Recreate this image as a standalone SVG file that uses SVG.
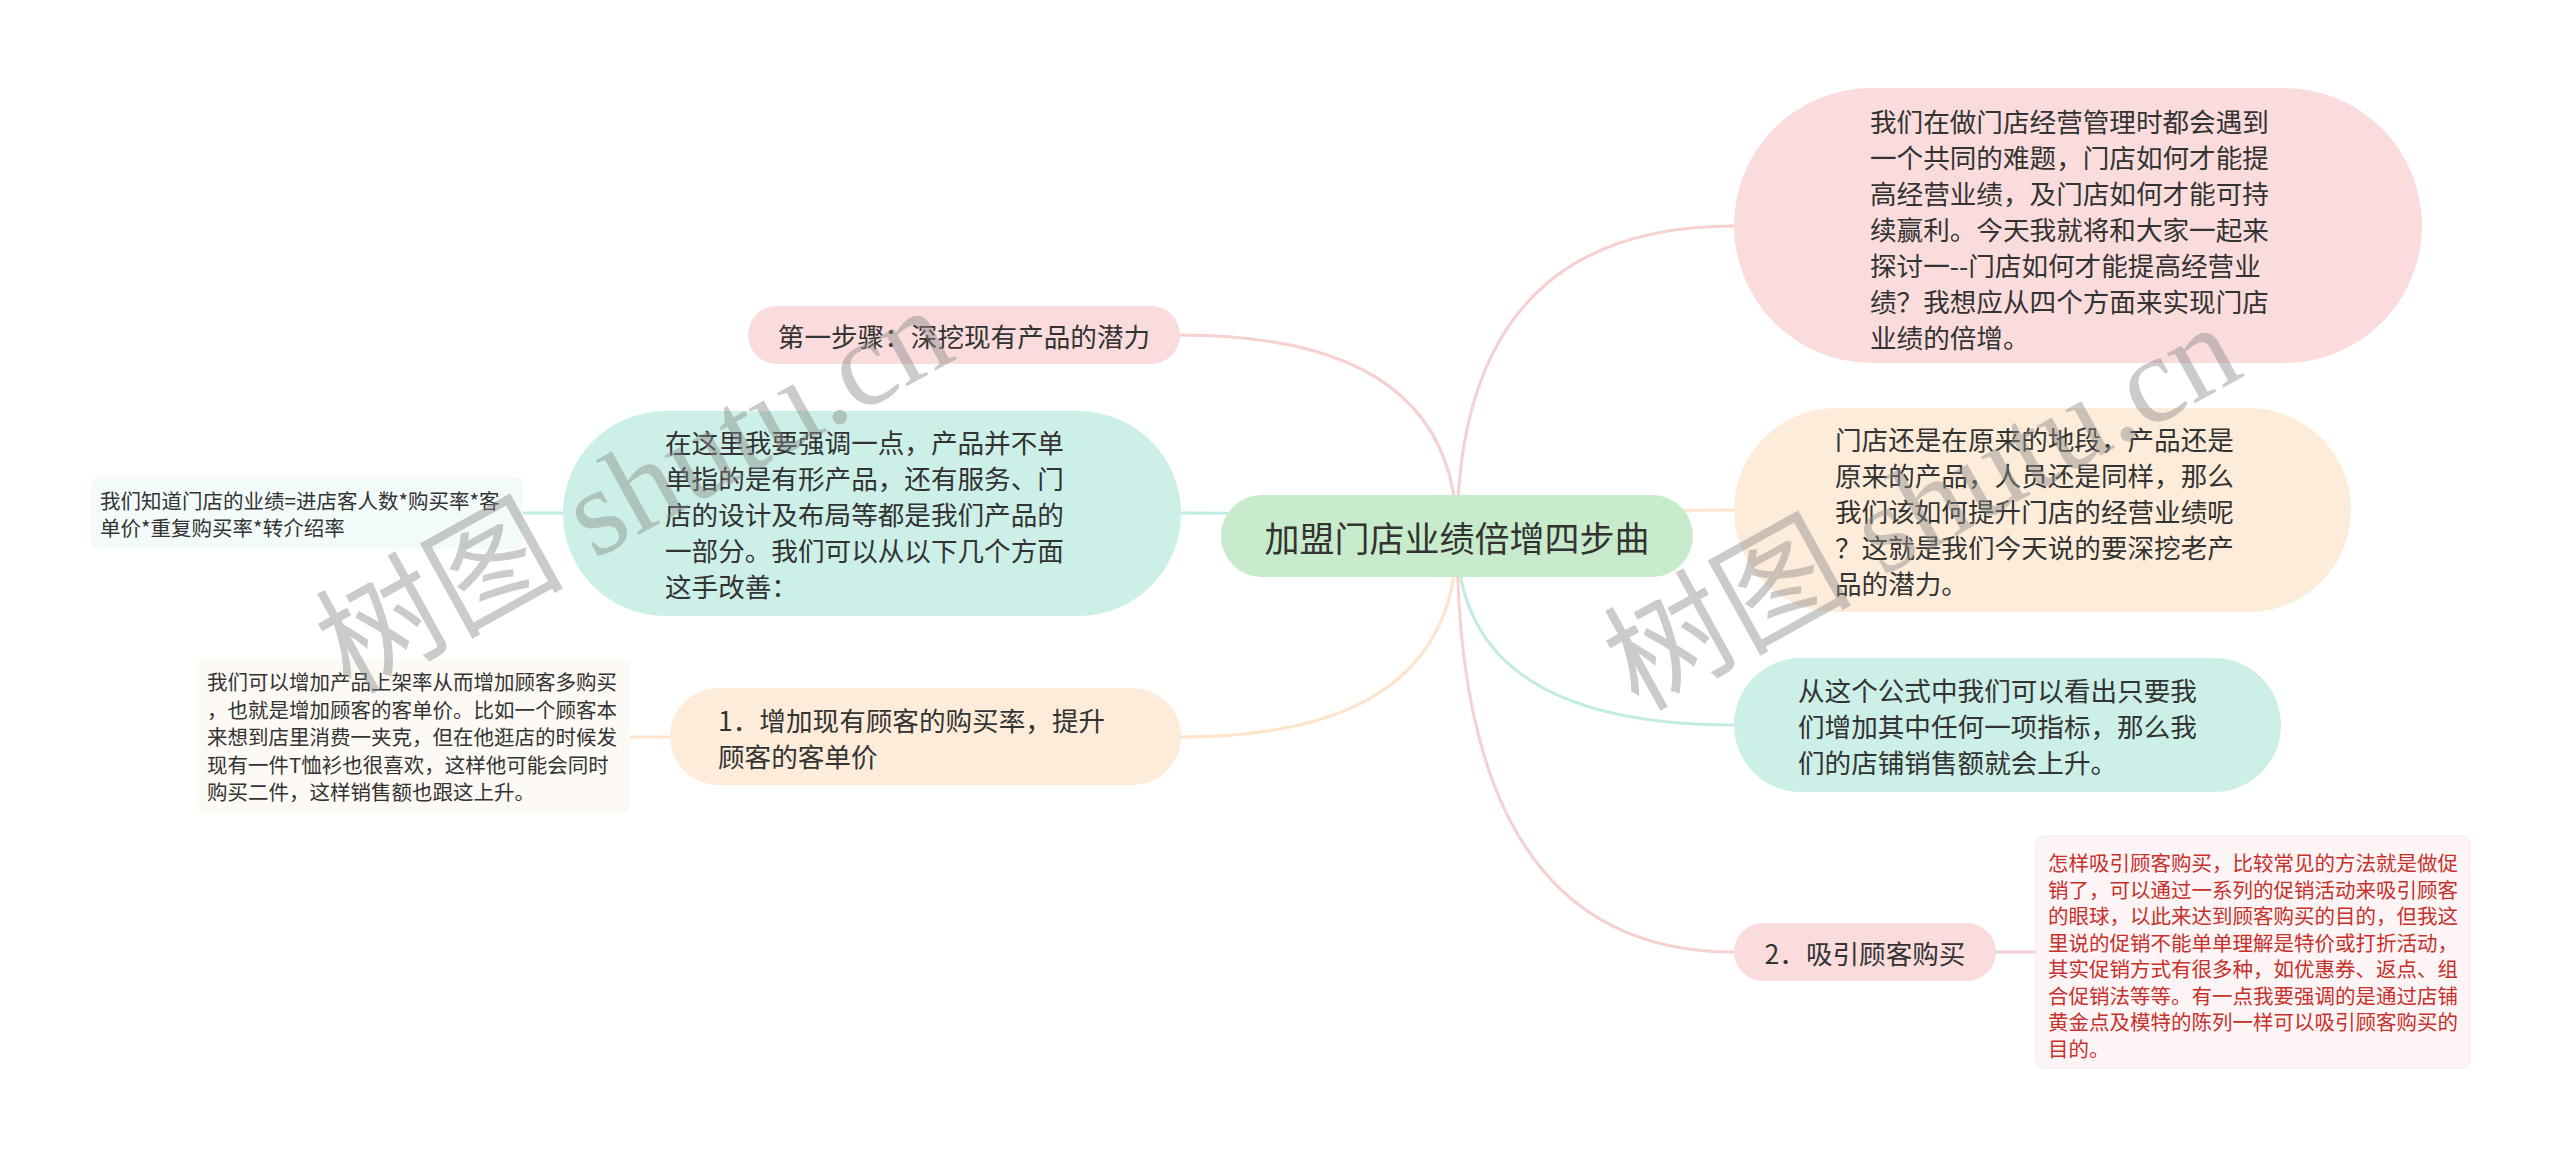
<svg xmlns="http://www.w3.org/2000/svg" width="2560" height="1158" viewBox="0 0 2560 1158">
<style>
.t{font-family:"Noto Sans CJK SC","Liberation Sans",sans-serif;fill:#333;dominant-baseline:central}
.m{font-size:26.6px}
.s{font-size:20.5px}
.r{fill:#c8302c}
.c{fill:none;stroke-width:3;stroke-linecap:round}
.pk{stroke:#f7d0d0}.pc{stroke:#fde4cc}.tl{stroke:#c2ebe3}
.wm{font-family:"Liberation Serif","Noto Sans CJK SC",serif;font-size:124px;fill:#8a8a8a;opacity:0.44}
</style>
<rect width="2560" height="1158" fill="#ffffff"/>
<g id="connectors">
<path class="c pk" d="M1457 536 Q1457 226 1734 226"/>
<path class="c pc" d="M1457 536 Q1457 510 1734 510"/>
<path class="c tl" d="M1457 536 Q1457 725 1734 725"/>
<path class="c pk" d="M1457 536 Q1457 952 1734 952"/>
<path class="c pk" d="M1996 952 L2036 952"/>
<path class="c pk" d="M1457 536 Q1457 335 1180 335"/>
<path class="c tl" d="M1457 536 Q1457 513 1181 513"/>
<path class="c pc" d="M1457 536 Q1457 737 1181 737"/>
<path class="c tl" d="M523 513 L563 513"/>
<path class="c pc" d="M630 737 L670 737"/>
</g>
<g id="center">
<rect x="1221" y="495" width="472" height="82" rx="41" fill="#c8ebcb"/>
<text class="t" x="1457" y="536" font-size="35" text-anchor="middle">加盟门店业绩倍增四步曲</text>
</g>
<g id="n1">
<rect x="1734" y="88" width="688" height="275" rx="137.5" fill="#fadcdc"/>
<text class="t m" x="1870"><tspan x="1870" y="120">我们在做门店经营管理时都会遇到</tspan><tspan x="1870" y="156">一个共同的难题，门店如何才能提</tspan><tspan x="1870" y="192">高经营业绩，及门店如何才能可持</tspan><tspan x="1870" y="228">续赢利。今天我就将和大家一起来</tspan><tspan x="1870" y="264">探讨一--门店如何才能提高经营业</tspan><tspan x="1870" y="300">绩？我想应从四个方面来实现门店</tspan><tspan x="1870" y="336">业绩的倍增。</tspan></text>
</g>
<g id="n2">
<rect x="1734" y="408" width="617" height="204" rx="102" fill="#fdecd9"/>
<text class="t m"><tspan x="1835" y="438">门店还是在原来的地段，产品还是</tspan><tspan x="1835" y="474">原来的产品，人员还是同样，那么</tspan><tspan x="1835" y="510">我们该如何提升门店的经营业绩呢</tspan><tspan x="1835" y="546">？这就是我们今天说的要深挖老产</tspan><tspan x="1835" y="582">品的潜力。</tspan></text>
</g>
<g id="n3">
<rect x="1734" y="658" width="547" height="134" rx="67" fill="#ccefe8"/>
<text class="t m"><tspan x="1798" y="689">从这个公式中我们可以看出只要我</tspan><tspan x="1798" y="725">们增加其中任何一项指标，那么我</tspan><tspan x="1798" y="761">们的店铺销售额就会上升。</tspan></text>
</g>
<g id="n4">
<rect x="1734" y="923" width="262" height="58" rx="29" fill="#fadcdc"/>
<text class="t m" x="1865" y="952" text-anchor="middle">2．吸引顾客购买</text>
</g>
<g id="n5">
<rect x="2036" y="836" width="434" height="232" rx="8" fill="#fdf5f5" stroke="#f8e8e8" stroke-width="1"/>
<text class="t s r"><tspan x="2048" y="862">怎样吸引顾客购买，比较常见的方法就是做促</tspan><tspan x="2048" y="888.5">销了，可以通过一系列的促销活动来吸引顾客</tspan><tspan x="2048" y="915">的眼球，以此来达到顾客购买的目的，但我这</tspan><tspan x="2048" y="941.5">里说的促销不能单单理解是特价或打折活动，</tspan><tspan x="2048" y="968">其实促销方式有很多种，如优惠券、返点、组</tspan><tspan x="2048" y="994.5">合促销法等等。有一点我要强调的是通过店铺</tspan><tspan x="2048" y="1021">黄金点及模特的陈列一样可以吸引顾客购买的</tspan><tspan x="2048" y="1047.5">目的。</tspan></text>
</g>
<g id="n6">
<rect x="748" y="306" width="432" height="58" rx="29" fill="#fadcdc"/>
<text class="t m" x="964" y="335" text-anchor="middle">第一步骤：深挖现有产品的潜力</text>
</g>
<g id="n7">
<rect x="563" y="411" width="618" height="205" rx="102.5" fill="#ccefe8"/>
<text class="t m"><tspan x="665" y="441">在这里我要强调一点，产品并不单</tspan><tspan x="665" y="477">单指的是有形产品，还有服务、门</tspan><tspan x="665" y="513">店的设计及布局等都是我们产品的</tspan><tspan x="665" y="549">一部分。我们可以从以下几个方面</tspan><tspan x="665" y="585">这手改善：</tspan></text>
</g>
<g id="n8">
<rect x="91" y="477" width="432" height="72" rx="8" fill="#f3fbfa"/>
<text class="t s"><tspan x="100" y="500">我们知道门店的业绩=进店客人数*购买率*客</tspan><tspan x="100" y="527">单价*重复购买率*转介绍率</tspan></text>
</g>
<g id="n9">
<rect x="670" y="688" width="511" height="97" rx="48.5" fill="#fdecd9"/>
<text class="t m"><tspan x="718" y="719">1．增加现有顾客的购买率，提升</tspan><tspan x="718" y="755">顾客的客单价</tspan></text>
</g>
<g id="n10">
<rect x="197" y="659" width="433" height="154" rx="8" fill="#fdf9f4"/>
<text class="t s"><tspan x="207" y="681">我们可以增加产品上架率从而增加顾客多购买</tspan><tspan x="207" y="708.5">，也就是增加顾客的客单价。比如一个顾客本</tspan><tspan x="207" y="736">来想到店里消费一夹克，但在他逛店的时候发</tspan><tspan x="207" y="763.5">现有一件T恤衫也很喜欢，这样他可能会同时</tspan><tspan x="207" y="791">购买二件，这样销售额也跟这上升。</tspan></text>
</g>
<g id="watermarks">
<text class="wm" x="350" y="695" transform="rotate(-29 350 695)">树图 shutu.cn</text>
<text class="wm" x="1638" y="712" transform="rotate(-29 1638 712)">树图 shutu.cn</text>
</g>
</svg>
